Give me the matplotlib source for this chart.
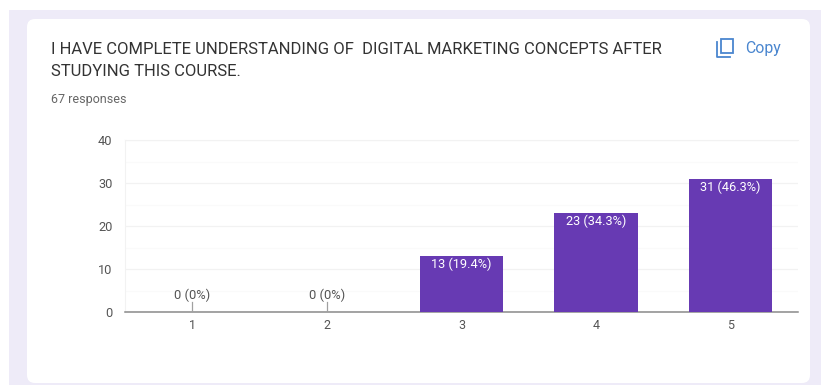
import matplotlib
matplotlib.use("Agg")
import matplotlib.pyplot as plt
from matplotlib.patches import FancyBboxPatch, Rectangle

# data
categories = ["1", "2", "3", "4", "5"]
counts = [0, 0, 13, 23, 31]
labels = ["0 (0%)", "0 (0%)", "13 (19.4%)", "23 (34.3%)", "31 (46.3%)"]
y_ticks = [0, 10, 20, 30, 40]
y_minor = [5, 15, 25, 35]

W, H = 821, 385
PURPLE = "#673AB3"
plt.rcParams["font.family"] = ["Roboto", "DejaVu Sans"]

fig = plt.figure(figsize=(W / 100, H / 100), dpi=100, facecolor="white")

# page background and card, in pixel coordinates
bg = fig.add_axes([0, 0, 1, 1])
bg.set_xlim(0, W)
bg.set_ylim(H, 0)
bg.axis("off")
bg.add_patch(Rectangle((9, 10), W - 9, H - 10, fc="#EEEBF8", ec="none"))
bg.add_patch(FancyBboxPatch((34, 26), 769, 350, boxstyle="round,pad=7,rounding_size=8",
                            fc="white", ec="none"))

bg.text(51, 49, "I HAVE COMPLETE UNDERSTANDING OF  DIGITAL MARKETING CONCEPTS AFTER",
        fontsize=12, color="#333333", va="center")
bg.text(51, 72, "STUDYING THIS COURSE.", fontsize=12, color="#333333", va="center")
bg.text(51, 100, "67 responses", fontsize=9, color="#666666", va="center")
bg.text(745, 48, "Copy", fontsize=11.4, color="#4a86cf", va="center")

# copy icon
bg.add_patch(Rectangle((721, 39), 12, 14, fc="none", ec="#4a86cf", lw=1.3))
bg.plot([717, 717, 730], [42, 56.5, 56.5], color="#4a86cf", lw=1.3)

# chart
ax = fig.add_axes([125 / W, 1 - 312 / H, (798 - 125) / W, (312 - 140) / H])
ax.patch.set_alpha(0)
x = list(range(1, len(categories) + 1))
ax.set_xlim(0.5, 5.5)
ax.set_ylim(0, 40)
ax.set_axisbelow(True)
ax.bar(x, counts, width=0.62, color=PURPLE, zorder=3)

ax.set_yticks(y_ticks)
ax.set_yticks(y_minor, minor=True)
ax.grid(axis="y", which="major", color="#f2f2f2", lw=0.9)
ax.grid(axis="y", which="minor", color="#fafafa", lw=0.8)
ax.set_xticks(x, categories)
ax.tick_params(axis="both", which="both", length=0)
ax.tick_params(axis="x", labelsize=9, labelcolor="#555555", pad=5)
ax.tick_params(axis="y", labelsize=9.2, labelcolor="#555555", pad=9)

ax.spines["top"].set_color("#f2f2f2")
ax.spines["top"].set_linewidth(0.8)
ax.spines["right"].set_visible(False)
ax.spines["left"].set_color("#f2f2f2")
ax.spines["left"].set_linewidth(0.8)
ax.spines["bottom"].set_color("#8a8a8a")
ax.spines["bottom"].set_linewidth(1.1)

for xi, c, lab in zip(x, counts, labels):
    if c == 0:
        ax.plot([xi, xi], [0, 2.4], color="#a0a0a0", lw=0.9, zorder=4)
        ax.annotate(lab, (xi, 0), xytext=(0, 12), textcoords="offset points", ha="center",
                    va="center", fontsize=9.4, color="#555555")
    else:
        ax.annotate(lab, (xi, c), xytext=(0, -6), textcoords="offset points", ha="center",
                    va="center", fontsize=9.2, color="white", zorder=5)

fig.savefig("out.png", dpi=100)
